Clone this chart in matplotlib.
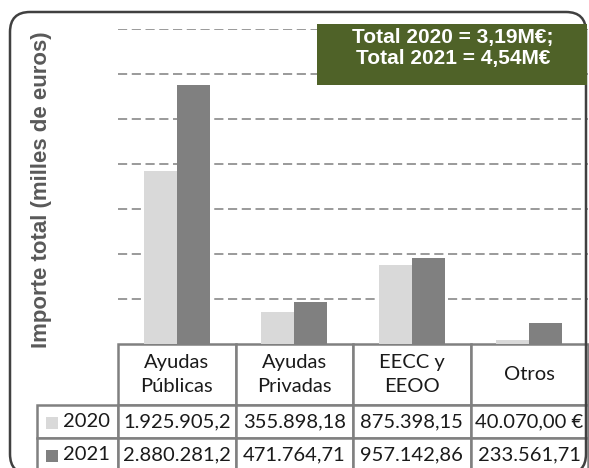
import matplotlib
matplotlib.use("Agg")
import matplotlib.pyplot as plt
import matplotlib.transforms as mtransforms
from matplotlib.patches import FancyBboxPatch, Rectangle
from matplotlib.table import Table
import numpy as np

# data (miles de euros)
categories = ["Ayudas\nPúblicas", "Ayudas\nPrivadas", "EECC y\nEEOO", "Otros"]
years = ["2020", "2021"]
values_2020 = [1925.905, 355.898, 875.398, 40.070]
values_2021 = [2880.281, 471.765, 957.143, 233.562]
labels_2020 = ["1.925.905,2", "355.898,18", "875.398,15", "40.070,00 €"]
labels_2021 = ["2.880.281,2", "471.764,71", "957.142,86", "233.561,71"]
total_text = "Total 2020 = 3,19M€;\nTotal 2021 = 4,54M€"

colors = ["#D9D9D9", "#808080"]
W, H = 589, 468

fig = plt.figure(figsize=(W / 100, H / 100), dpi=100)
fig.patch.set_facecolor("white")
px = mtransforms.IdentityTransform()

# rounded outer frame
frame = FancyBboxPatch((10, H - 474), 576, 462, boxstyle="round,pad=0,rounding_size=20",
                       transform=px, facecolor="none", edgecolor="#404040", linewidth=1.8)
fig.add_artist(frame)

AX_W, AX_H = 470, 315
ax = fig.add_axes([118 / W, (H - 344) / H, AX_W / W, AX_H / H])
x = np.arange(len(categories))
bw = 0.28
ax.bar(x - bw / 2, values_2020, bw, color=colors[0], zorder=3)
ax.bar(x + bw / 2, values_2021, bw, color=colors[1], zorder=3)
ax.set_xlim(-0.5, 3.5)
ax.set_ylim(0, 3500)
ax.set_yticks(np.arange(500, 3501, 500))
ax.grid(axis="y", color="#7F7F7F", linestyle=(0, (6, 3)), linewidth=1.1, zorder=0)
ax.tick_params(left=False, bottom=False, labelleft=False, labelbottom=False)
for s in ax.spines.values():
    s.set_visible(False)

# data table below the bars (sizes in axes units)
col_w, lab_w = 117.5 / AX_W, 81 / AX_W
head_h, row_h = 61 / AX_H, 33 / AX_H
tbl_h = head_h + 2 * row_h
tbl = Table(ax, bbox=[0, -tbl_h, 1, tbl_h])
for j, c in enumerate(categories):
    tbl.add_cell(0, j, col_w, head_h, text=c, loc="center")
rows = [labels_2020, labels_2021]
for i, (yr, lab) in enumerate(zip(years, rows), start=1):
    tbl.add_cell(i, -1, lab_w, row_h, text=yr, loc="right")
    for j, t in enumerate(lab):
        tbl.add_cell(i, j, col_w, row_h, text=t, loc="center")
tbl.auto_set_font_size(False)
for cell in tbl.get_celld().values():
    cell.set_edgecolor("#808080")
    cell.set_linewidth(1.8)
    cell.get_text().set_fontsize(14.5)
    cell.get_text().set_fontfamily("Lato")
    cell.get_text().set_color("#1a1a1a")
    cell.get_text().set_linespacing(1.45)
ax.add_table(tbl)

# legend keys in the row label cells
for i, c in enumerate(colors):
    yc = 422.5 + i * 33
    fig.add_artist(Rectangle((46, H - yc - 6), 12, 12, transform=px,
                             facecolor=c, edgecolor="none"))

fig.text(42 / W, (H - 190) / H, "Importe total (milles de euros)", rotation=90,
         ha="center", va="center", fontsize=16, fontweight="bold",
         color="#595959", family="Liberation Sans")

# totals box
fig.add_artist(Rectangle((317, H - 85), 270, 61, transform=px,
                         facecolor="#4F6228", edgecolor="none"))
fig.text(453 / W, (H - 48) / H, total_text, ha="center", va="center",
         fontsize=15, fontweight="bold", color="white", family="Liberation Sans",
         linespacing=1.1)

fig.savefig("out.png", dpi=100)
